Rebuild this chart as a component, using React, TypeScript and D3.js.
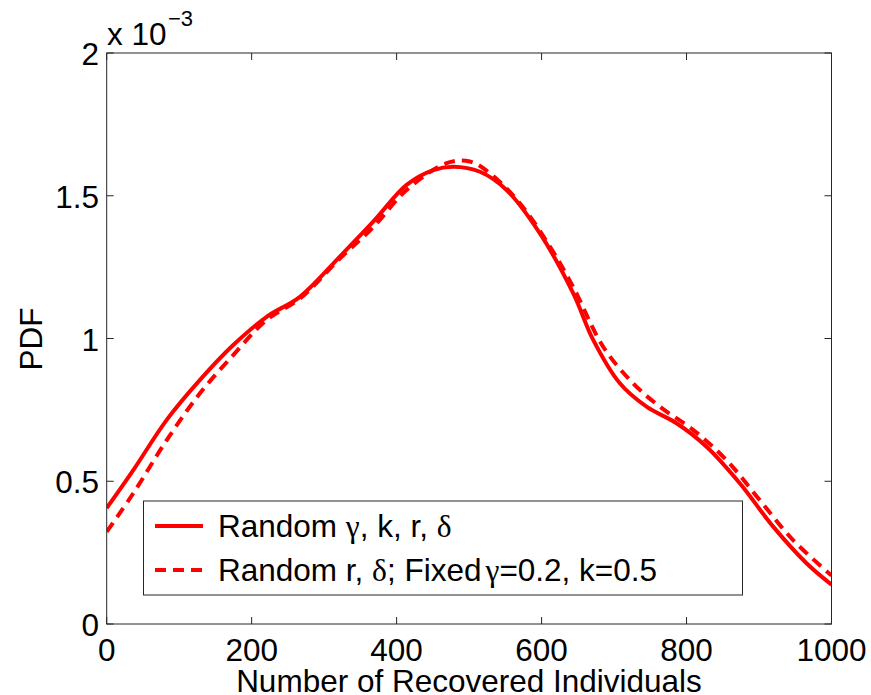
import React from "react";
import * as d3 from "d3";

const solidX = [0, 36.7, 82.8, 128.7, 174.6, 220.7, 266.6, 321.7, 367.7, 413.8, 450.5, 478, 515, 551.7, 597.7, 643.7, 671.2, 708, 744.8, 786.2, 827.6, 873.5, 919.5, 965.5, 1000];
const solidY = [0.406, 0.539, 0.715, 0.855, 0.977, 1.076, 1.146, 1.287, 1.409, 1.538, 1.59, 1.602, 1.584, 1.52, 1.368, 1.158, 0.995, 0.843, 0.761, 0.703, 0.621, 0.493, 0.341, 0.213, 0.138];
const dashX = [0, 36.7, 82.8, 128.7, 174.6, 220.7, 266.6, 321.7, 367.7, 413.8, 469, 501, 528.7, 570, 611.5, 643.7, 685, 726.3, 763.2, 809, 855.2, 901, 947, 1000];
const dashY = [0.323, 0.458, 0.644, 0.808, 0.942, 1.065, 1.14, 1.28, 1.39, 1.52, 1.614, 1.62, 1.579, 1.474, 1.322, 1.18, 0.971, 0.843, 0.761, 0.68, 0.574, 0.434, 0.294, 0.17];
const xTicks = [0, 200, 400, 600, 800, 1000];
const yTicks = [0, 0.5, 1, 1.5, 2];
const yTickLabels = ["0", "0.5", "1", "1.5", "2"];

const L = 106.7, R = 831.5, T = 53, B = 624;
const font = "'Liberation Sans', Arial, Helvetica, sans-serif";
const greek = "'Liberation Serif', 'DejaVu Serif', serif";

export default function App() {
  const x = d3.scaleLinear().domain([0, 1000]).range([L, R]);
  const y = d3.scaleLinear().domain([0, 2]).range([B, T]);
  const line = d3.line<[number, number]>().x(d => x(d[0])).y(d => y(d[1])).curve(d3.curveCatmullRom.alpha(0.5));
  const solid = line(solidX.map((v, i) => [v, solidY[i]]) as [number, number][]) || "";
  const dashed = line(dashX.map((v, i) => [v, dashY[i]]) as [number, number][]) || "";
  const tk = 7;
  const axisColor = "#262626";
  const fs = 31.5;
  return (
    <svg width={871} height={695} style={{ display: "block", position: "absolute", left: 0, top: 0 }} fontFamily={font}>
      <rect x={0} y={0} width={871} height={695} fill="#fff" />
      <defs>
        <clipPath id="plotclip"><rect x={L} y={T} width={R - L} height={B - T} /></clipPath>
      </defs>
      {xTicks.map(t => (
        <g key={"xt" + t}>
          <line x1={x(t)} x2={x(t)} y1={B} y2={B - tk} stroke={axisColor} strokeWidth={1} />
          <line x1={x(t)} x2={x(t)} y1={T} y2={T + tk} stroke={axisColor} strokeWidth={1} />
          <text x={x(t)} y={661} fontSize={fs} textAnchor="middle" fill="#000">{t}</text>
        </g>
      ))}
      {yTicks.map((t, i) => (
        <g key={"yt" + t}>
          <line x1={L} x2={L + tk} y1={y(t)} y2={y(t)} stroke={axisColor} strokeWidth={1} />
          <line x1={R} x2={R - tk} y1={y(t)} y2={y(t)} stroke={axisColor} strokeWidth={1} />
          <text x={99} y={y(t) + 12} fontSize={fs} textAnchor="end" fill="#000">{yTickLabels[i]}</text>
        </g>
      ))}
      <text x={107} y={45} fontSize={fs} fill="#000">x 10</text>
      <text x={168} y={26} fontSize={22} fill="#000">−3</text>
      <g clipPath="url(#plotclip)">
        <path d={solid} fill="none" stroke="#ff0000" strokeWidth={4} />
        <path d={dashed} fill="none" stroke="#ff0000" strokeWidth={4} strokeDasharray="11 7" />
      </g>
      <rect x={L} y={T} width={R - L} height={B - T} fill="none" stroke={axisColor} strokeWidth={1} />
      <rect x={143.5} y={501} width={599} height={94} fill="#fff" stroke={axisColor} strokeWidth={1} />
      <line x1={155} x2={203} y1={526} y2={526} stroke="#ff0000" strokeWidth={4} />
      <line x1={155} x2={203} y1={570} y2={570} stroke="#ff0000" strokeWidth={4} strokeDasharray="11 7" />
      <text x={218} y={537} fontSize={fs} fill="#000">
        Random <tspan fontFamily={greek}>γ</tspan>, k, r, <tspan fontFamily={greek}>δ</tspan>
      </text>
      <text x={218} y={581} fontSize={fs} fill="#000">
        Random r, <tspan fontFamily={greek}>δ</tspan>; Fixed<tspan fontFamily={greek} dx={4}>γ</tspan>=0.2, k=0.5
      </text>
      <text x={469} y={692} fontSize={fs} textAnchor="middle" fill="#000">Number of Recovered Individuals</text>
      <text transform="translate(42,339) rotate(-90)" fontSize={fs} textAnchor="middle" fill="#000">PDF</text>
    </svg>
  );
}
